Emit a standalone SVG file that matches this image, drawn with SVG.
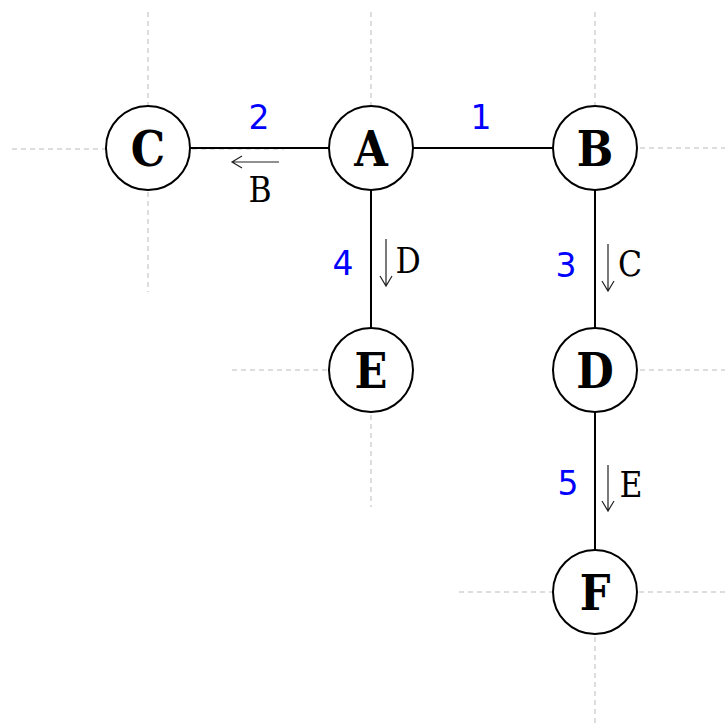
<svg xmlns="http://www.w3.org/2000/svg" width="725" height="727" viewBox="0 0 725 727">
<style>
.guide{stroke:#bbbbbb;stroke-width:1;stroke-dasharray:5 4;fill:none}
.edge{stroke:#000;stroke-width:2;fill:none}
.node circle{fill:#fff;stroke:#000;stroke-width:2}
.node text{font-family:"DejaVu Serif Condensed","DejaVu Serif",serif;font-weight:bold;font-size:48px;text-anchor:middle;fill:#000}
.num{font-family:"DejaVu Sans",sans-serif;font-size:33px;fill:#0000ff;text-anchor:middle}
.lab{font-family:"DejaVu Serif Condensed","DejaVu Serif",serif;font-size:35px;fill:#000;text-anchor:middle}
.arr{stroke:#222;stroke-width:1.2;fill:none}
</style>
<g id="guides">
<line class="guide" x1="12" y1="149" x2="284" y2="149"/>
<line class="guide" x1="148" y1="12" x2="148" y2="292"/>
<line class="guide" x1="371" y1="12" x2="371" y2="148"/>
<line class="guide" x1="595" y1="12" x2="595" y2="148"/>
<line class="guide" x1="595" y1="148" x2="725" y2="148"/>
<line class="guide" x1="232" y1="370" x2="371" y2="370"/>
<line class="guide" x1="371" y1="370" x2="371" y2="507"/>
<line class="guide" x1="595" y1="370" x2="725" y2="370"/>
<line class="guide" x1="459" y1="592" x2="725" y2="592"/>
<line class="guide" x1="595" y1="592" x2="595" y2="727"/>
</g>
<g id="connectors">
<line class="edge" x1="190" y1="148" x2="329" y2="148"/>
<line class="edge" x1="413" y1="148" x2="553" y2="148"/>
<line class="edge" x1="371" y1="190" x2="371" y2="328"/>
<line class="edge" x1="595" y1="190" x2="595" y2="328"/>
<line class="edge" x1="595" y1="412" x2="595" y2="550"/>
<text class="num" x="481" y="129">1</text>
<text class="num" x="259" y="129">2</text>
<text class="num" x="566" y="277">3</text>
<text class="num" x="343" y="275">4</text>
<text class="num" x="568" y="495">5</text>
<path class="arr" d="M279,162 H232 M242,156 L232,162 L242,168"/>
<text class="lab" x="260" y="202">B</text>
<path class="arr" d="M386,239 V286 M380,276 L386,286 L392,276"/>
<text class="lab" x="408" y="273">D</text>
<path class="arr" d="M608,244 V291 M602,281 L608,291 L614,281"/>
<text class="lab" x="630" y="276">C</text>
<path class="arr" d="M608,465 V511 M602,501 L608,511 L614,501"/>
<text class="lab" x="631" y="497">E</text>
</g>
<g id="node-A" class="node"><circle cx="371" cy="148" r="42"/><text x="371" y="166">A</text></g>
<g id="node-B" class="node"><circle cx="595" cy="148" r="42"/><text x="595" y="166">B</text></g>
<g id="node-C" class="node"><circle cx="148" cy="148" r="42"/><text x="148" y="166">C</text></g>
<g id="node-D" class="node"><circle cx="595" cy="370" r="42"/><text x="595" y="388">D</text></g>
<g id="node-E" class="node"><circle cx="371" cy="370" r="42"/><text x="371" y="388">E</text></g>
<g id="node-F" class="node"><circle cx="595" cy="592" r="42"/><text x="595" y="610">F</text></g>
</svg>
